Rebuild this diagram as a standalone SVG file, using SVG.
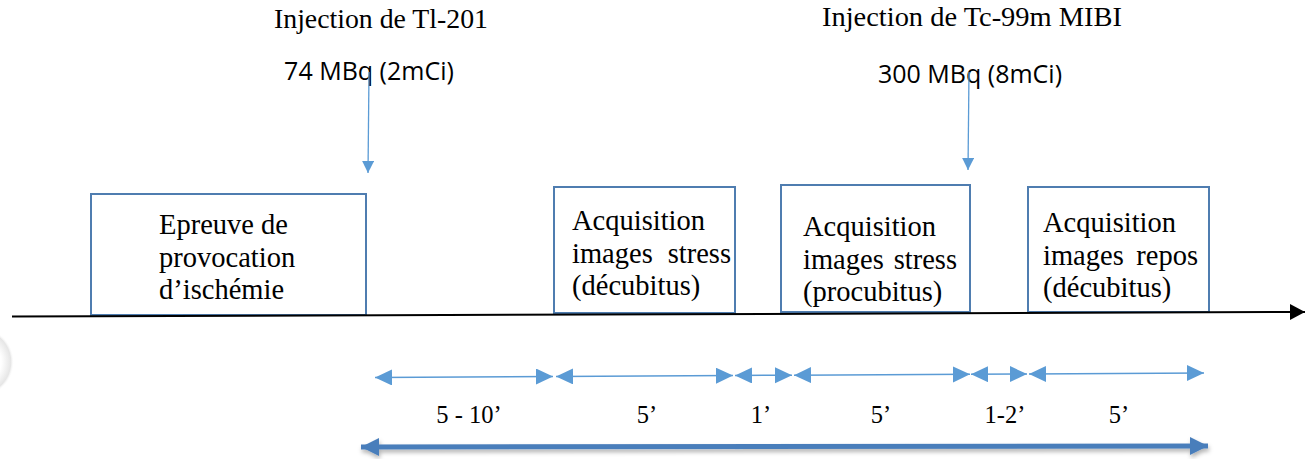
<svg xmlns="http://www.w3.org/2000/svg" width="1305" height="459" viewBox="0 0 1305 459">
  <style>
    .serif { font-family: "Liberation Serif", "Times New Roman", serif; fill: #000; }
    .box { fill: #fff; stroke: #4F7DB0; stroke-width: 2; }
    .btxt { font-size: 28.5px; }
    .top { font-size: 27px; }
    .sans { font-family: "Open Sans", "Noto Sans", sans-serif; font-size: 25px; fill: #000; }
    .lbl { font-size: 24.5px; text-anchor: middle; }
    .inj { stroke: #5B9BD5; stroke-width: 1.3; fill: none; }
    .dur { stroke: #5B9BD5; stroke-width: 1.5; fill: none; }
    .total { stroke: #4A7EBB; stroke-width: 5; fill: none; }
    .axis { stroke: #000; stroke-width: 2; fill: none; }
  </style>
  <defs>
    <marker id="injHead" markerUnits="userSpaceOnUse" markerWidth="14" markerHeight="14" refX="12" refY="6" orient="auto">
      <path d="M0,0 L12,6 L0,12 Z" fill="#5B9BD5"/>
    </marker>
    <marker id="durHead" markerUnits="userSpaceOnUse" markerWidth="20" markerHeight="18" refX="17" refY="8" orient="auto-start-reverse">
      <path d="M0,0 L17,8 L0,16 Z" fill="#5B9BD5"/>
    </marker>
    <marker id="totHead" markerUnits="userSpaceOnUse" markerWidth="20" markerHeight="20" refX="18" refY="9" orient="auto-start-reverse">
      <path d="M0,0 L18,9 L0,18 Z" fill="#4A7EBB"/>
    </marker>
    <marker id="axisHead" markerUnits="userSpaceOnUse" markerWidth="18" markerHeight="18" refX="15" refY="8" orient="auto">
      <path d="M0,0 L15,8 L0,16 Z" fill="#000"/>
    </marker>
    <filter id="shadow" filterUnits="userSpaceOnUse" x="330" y="420" width="910" height="39">
      <feDropShadow dx="1" dy="3" stdDeviation="2" flood-color="#000" flood-opacity="0.3"/>
    </filter>
    <radialGradient id="blob" cx="0.5" cy="0.5" r="0.5">
      <stop offset="0.6" stop-color="#ffffff"/>
      <stop offset="0.9" stop-color="#e6e6e6"/>
      <stop offset="1" stop-color="#ffffff" stop-opacity="0"/>
    </radialGradient>
  </defs>

  <rect x="0" y="0" width="1305" height="459" fill="#fff"/>

  <!-- decorative artifact at left edge -->
  <ellipse cx="-18" cy="362" rx="32" ry="34" fill="url(#blob)"/>

  <!-- injection labels -->
  <g id="inj-tl">
    <text class="serif top" x="381" y="28" text-anchor="middle" textLength="214" lengthAdjust="spacingAndGlyphs">Injection de Tl-201</text>
    <text class="sans" x="369" y="80" text-anchor="middle">74 MBq (2mCi)</text>
  </g>
  <g id="inj-tc">
    <text class="serif top" x="972" y="26" text-anchor="middle" textLength="300" lengthAdjust="spacingAndGlyphs">Injection de Tc-99m MIBI</text>
    <text class="sans" x="970" y="83" text-anchor="middle">300 MBq (8mCi)</text>
  </g>

  <!-- boxes -->
  <g id="box-epreuve">
    <rect class="box" x="91" y="194" width="275" height="121"/>
    <text class="serif btxt" x="159" y="234">Epreuve de</text>
    <text class="serif btxt" x="159" y="266.5">provocation</text>
    <text class="serif btxt" x="159" y="299">d’ischémie</text>
  </g>
  <g id="box-stress-decubitus">
    <rect class="box" x="554" y="187" width="181" height="126"/>
    <text class="serif btxt" x="572" y="230">Acquisition</text>
    <text class="serif btxt" x="572" y="263">images</text>
    <text class="serif btxt" x="731" y="263" text-anchor="end">stress</text>
    <text class="serif btxt" x="572" y="295">(décubitus)</text>
  </g>
  <g id="box-stress-procubitus">
    <rect class="box" x="781" y="185" width="189" height="127"/>
    <text class="serif btxt" x="803" y="236">Acquisition</text>
    <text class="serif btxt" x="803" y="269">images</text>
    <text class="serif btxt" x="957" y="269" text-anchor="end">stress</text>
    <text class="serif btxt" x="803" y="301">(procubitus)</text>
  </g>
  <g id="box-repos">
    <rect class="box" x="1028" y="187" width="181" height="125"/>
    <text class="serif btxt" x="1043" y="232">Acquisition</text>
    <text class="serif btxt" x="1043" y="265">images</text>
    <text class="serif btxt" x="1198" y="265" text-anchor="end">repos</text>
    <text class="serif btxt" x="1043" y="297">(décubitus)</text>
  </g>

  <!-- duration labels -->
  <g id="labels">
    <text class="serif lbl" x="469" y="423">5 - 10’</text>
    <text class="serif lbl" x="647" y="423">5’</text>
    <text class="serif lbl" x="761" y="423">1’</text>
    <text class="serif lbl" x="881" y="423">5’</text>
    <text class="serif lbl" x="1005" y="423">1-2’</text>
    <text class="serif lbl" x="1119" y="423">5’</text>
  </g>

  <!-- connectors -->
  <g id="connectors">
    <line class="axis" x1="12" y1="316.5" x2="1305" y2="312" marker-end="url(#axisHead)"/>
    <line class="inj" x1="369" y1="72" x2="368" y2="173" marker-end="url(#injHead)"/>
    <line class="inj" x1="969" y1="72" x2="968" y2="170" marker-end="url(#injHead)"/>

    <line class="dur" x1="375" y1="377.5" x2="553" y2="376.5" marker-start="url(#durHead)" marker-end="url(#durHead)"/>
    <line class="dur" x1="556" y1="376.5" x2="733" y2="375.6" marker-start="url(#durHead)" marker-end="url(#durHead)"/>
    <line class="dur" x1="735" y1="375.5" x2="792" y2="375.2" marker-start="url(#durHead)" marker-end="url(#durHead)"/>
    <line class="dur" x1="794" y1="375.2" x2="970" y2="374.3" marker-start="url(#durHead)" marker-end="url(#durHead)"/>
    <line class="dur" x1="971" y1="374.3" x2="1027" y2="374" marker-start="url(#durHead)" marker-end="url(#durHead)"/>
    <line class="dur" x1="1029" y1="374" x2="1204" y2="373" marker-start="url(#durHead)" marker-end="url(#durHead)"/>

    <g filter="url(#shadow)">
      <line class="total" x1="361" y1="447" x2="1208" y2="446" marker-start="url(#totHead)" marker-end="url(#totHead)"/>
    </g>
  </g>
</svg>
